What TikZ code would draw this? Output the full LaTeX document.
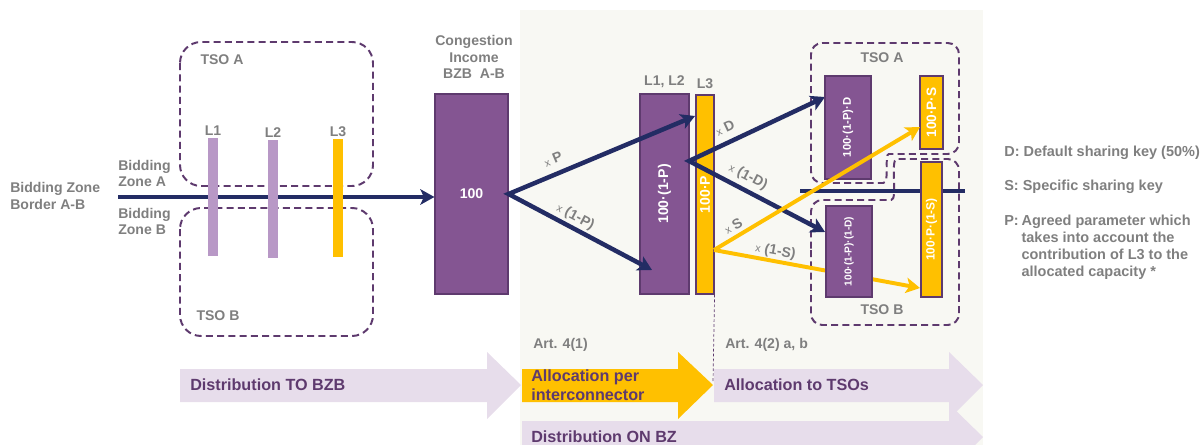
\documentclass[tikz,border=0pt]{standalone}
\usepackage{fontspec}
\setmainfont{Liberation Sans}
\usepackage{tikz}
\usetikzlibrary{arrows.meta,positioning}

\definecolor{navy}{HTML}{232C64}
\definecolor{boxpurple}{HTML}{845592}
\definecolor{boxedge}{HTML}{5E3A6E}
\definecolor{barpurple}{HTML}{B898C6}
\definecolor{gold}{HTML}{FFC000}
\definecolor{greytext}{HTML}{7F7F7F}
\definecolor{lavender}{HTML}{E7DDEB}
\definecolor{paper}{HTML}{F8F8F3}

\def\pxu{0.025cm}

\tikzset{
  pbox/.style={draw=boxedge, fill=boxpurple, line width=0.8pt, inner sep=0pt},
  ybox/.style={draw=boxedge, fill=gold, line width=0.8pt, inner sep=0pt},
  bar/.style={fill=barpurple, inner sep=0pt, minimum width=10*\pxu, minimum height=118*\pxu},
  flow/.style={draw=navy, line width=3.2pt, -{Stealth[length=10pt,width=11pt,inset=2.5pt]}},
  flowtwo/.style={draw=navy, line width=3.2pt, {Stealth[length=10pt,width=11pt,inset=2.5pt]}-{Stealth[length=10pt,width=11pt,inset=2.5pt]}},
  yflow/.style={draw=gold, line width=2.8pt, -{Stealth[length=10pt,width=11pt,inset=2.5pt]}},
  gtext/.style={text=greytext, font=\bfseries\fontsize{10}{11.8}\selectfont, inner sep=0pt},
  keytext/.style={text=greytext, font=\bfseries\fontsize{10.3}{12.3}\selectfont, inner sep=0pt, anchor=west},
  factor/.style={text=greytext, font=\bfseries\fontsize{10}{12}\selectfont, inner sep=0pt, sloped},
  tsoline/.style={draw=boxedge, line width=1.4pt, dash pattern=on 5pt off 3pt},
  stagetext/.style={text=boxedge, font=\bfseries\fontsize{11.5}{13.5}\selectfont, inner sep=0pt, anchor=west, align=left},
  inbox/.style={text=white, font=\bfseries\fontsize{#1}{#1}\selectfont, rotate=90, inner sep=0pt},
}

\newcommand{\xby}[1]{{\mdseries\fontsize{7.5}{7.5}\selectfont x} #1}

\begin{document}
\begin{tikzpicture}[x=\pxu, y=-\pxu]
\clip (0,0) rectangle (1203,445);

\fill[paper] (520,10) rectangle (983,445);

\fill[lavender] (180,369) -- (487,369) -- (487,352) -- (521,385) -- (487,419) -- (487,402) -- (180,402) -- cycle;
\fill[gold] (522,369) -- (678,369) -- (678,352) -- (713,385) -- (678,419) -- (678,402) -- (522,402) -- cycle;
\fill[lavender] (714,369) -- (949,369) -- (949,352) -- (983,385) -- (949,419) -- (949,402) -- (714,402) -- cycle;
\fill[lavender] (522,421) -- (949,421) -- (949,404) -- (983,437) -- (949,471) -- (949,454) -- (522,454) -- cycle;

\node[stagetext] (distto) at (190,385) {Distribution TO BZB};
\node[stagetext] (allocic) at (531,385) {Allocation per\\interconnector};
\node[stagetext] (alloctso) at (724,385) {Allocation to TSOs};
\node[stagetext] (diston) at (531,437) {Distribution ON BZ};
\node[gtext, anchor=west] (art1) at (533,345) {Art. 4(1)};
\node[gtext, anchor=west] (art2) at (725,345) {Art. 4(2) a, b};

\draw[tsoline, rounded corners=15pt] (180,42) rectangle (373,186);
\draw[tsoline, rounded corners=15pt] (180,208) rectangle (373,336);
\node[gtext] (tsoAleft) at (222,60) {TSO A};
\node[gtext] (tsoBleft) at (218,316) {TSO B};

\draw[tsoline, rounded corners=8pt] (811,110) -- (811,183) -- (872,183) .. controls (890,183) and (884,154) .. (900,154) -- (959,154) -- (959,43) -- (811,43) -- cycle;
\draw[tsoline, rounded corners=8pt] (811,260) -- (811,200) -- (880,200) .. controls (898,200) and (890,159) .. (908,159) -- (959,159) -- (959,325) -- (811,325) -- cycle;
\node[gtext] (tsoAright) at (882,58) {TSO A};
\node[gtext] (tsoBright) at (882,310) {TSO B};

\node[gtext, anchor=west, align=left] (bzborder) at (10,196) {Bidding Zone\\Border A-B};
\node[gtext, anchor=west, align=left] (zoneA) at (118,173.5) {Bidding\\Zone A};
\node[gtext, anchor=west, align=left] (zoneB) at (118,221.5) {Bidding\\Zone B};

\node[pbox, minimum width=73*\pxu, minimum height=200*\pxu,
  label={[text=white, font=\bfseries\fontsize{10}{10}\selectfont]center:100}] (ci) at (471.5,194) {};
\node[gtext, align=center] (cititle) at (474,57) {Congestion\\Income\\BZB\ \ A-B};

\coordinate (bzl) at (118,197);
\draw[flow] (bzl) -- (bzl -| ci.west);

\node[bar] (b1) at (213,197) {};
\node[bar] (b2) at (273,199) {};
\node[bar, fill=gold] (b3) at (338,198) {};
\node[gtext, above=1.5pt of b1] (l1) {L1};
\node[gtext, above=1.5pt of b2] (l2) {L2};
\node[gtext, above=1.5pt of b3] (l3) {L3};

\node[pbox, minimum width=49*\pxu, minimum height=200*\pxu,
  label={[inbox=10]center:100·(1-P)}] (l12) at (664.5,194) {};
\node[ybox, minimum width=18*\pxu, minimum height=199*\pxu,
  label={[inbox=10]center:100·P}] (l3box) at (705,194.5) {};
\node[gtext, above=4pt of l12] (l12lab) {L1, L2};
\node[gtext, above=4pt of l3box] (l3lab) {L3};

\coordinate (pin) at (695,116);
\coordinate (pout) at (652,270);
\draw[flowtwo] (pin) -- (ci.east) -- (pout);
\path (ci.east) -- node[factor, pos=.27, above=7pt] {\xby{P}} (pin);
\path (ci.east) -- node[factor, pos=.43, above=3pt] {\xby{(1-P)}} (pout);

\coordinate (lsplit) at (689,161);
\coordinate (dA) at (825,97);
\coordinate (dB) at (825,232);
\draw[flowtwo] (dA) -- (lsplit) -- (dB);
\path (lsplit) -- node[factor, pos=.31, above=6.5pt] {\xby{D}} (dA);
\path (lsplit) -- node[factor, pos=.39, above=4.5pt] {\xby{(1-D)}} (dB);

\draw[draw=navy, line width=3.4pt] (800,191) -- (965,191);

\coordinate (ysplit) at (714,250);
\coordinate (sA) at (920,127);
\coordinate (sB) at (920,288);
\draw[yflow] (ysplit) -- (sB);

\node[pbox, minimum width=46*\pxu, minimum height=103*\pxu,
  label={[inbox=8]center:100·(1-P)·D}] (shareAD) at (848,127.5) {};
\node[pbox, minimum width=46*\pxu, minimum height=91*\pxu,
  label={[inbox=7.2]center:100·(1-P)·(1-D)}] (shareBD) at (849,251.5) {};
\node[ybox, minimum width=23*\pxu, minimum height=73*\pxu,
  label={[inbox=9.7]center:100·P·S}] (shareAS) at (931.5,112.5) {};
\node[ybox, minimum width=21*\pxu, minimum height=135*\pxu,
  label={[inbox=8.5]center:100·P·(1-S)}] (shareBS) at (931.5,229.5) {};

\draw[yflow] (ysplit) -- (sA);
\path (ysplit) -- node[factor, pos=.12, above=4pt] {\xby{S}} (sA);
\path (ysplit) -- node[factor, pos=.29, above=2pt] {\xby{(1-S)}} (sB);

\coordinate (artsplit) at (713,382);
\draw[boxedge, line width=0.5pt, dash pattern=on 2pt off 1.5pt] (l3box.south east) -- (artsplit);

\node[keytext] (keyD) at (1004,153) {D: Default sharing key (50\%)};
\node[keytext] (keyS) at (1004,187) {S: Specific sharing key};
\node[keytext] (keyP) at (1004,247.5) {\begin{tabular}{@{}l@{\hspace{2pt}}l@{}}P: & Agreed parameter which\\ & takes into account the\\ & contribution of L3 to the\\ & allocated capacity *\end{tabular}};
\end{tikzpicture}
\end{document}
